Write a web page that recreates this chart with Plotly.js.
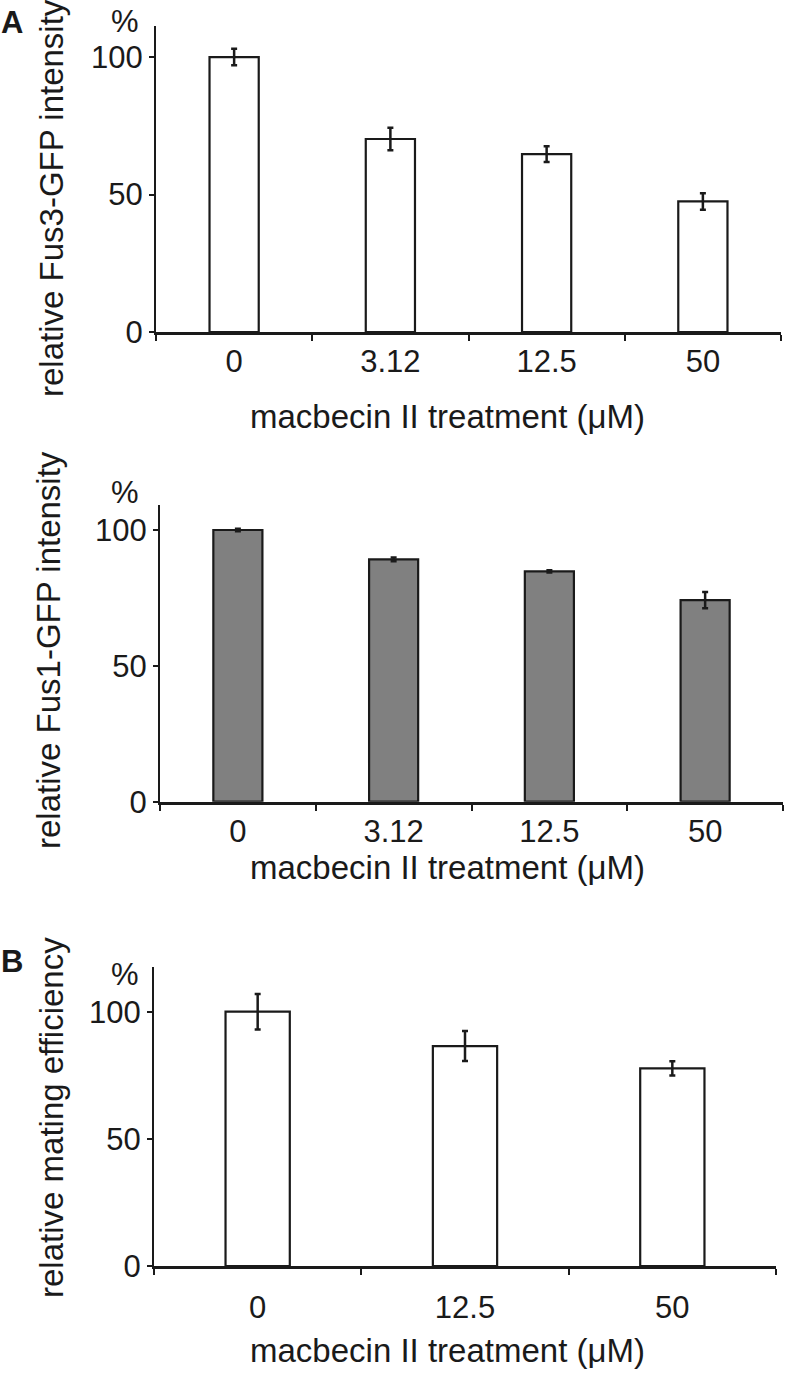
<!DOCTYPE html>
<html>
<head>
<meta charset="utf-8">
<script src="https://cdn.plot.ly/plotly-3.0.1.min.js"></script>
<style>html,body{margin:0;padding:0;background:#fff;}#chart{width:785px;height:1375px;}</style>
</head>
<body>
<div id="chart"></div>
<script>
// ---- data ----
const concA = ["0", "3.12", "12.5", "50"];
const fus3Values = [100, 70.2, 64.7, 47.5];
const fus3Errors = [3.0, 4.1, 2.9, 3.0];
const fus1Values = [100, 89.2, 84.8, 74.2];
const fus1Errors = [0.5, 0.7, 0.4, 3.0];
const concB = ["0", "12.5", "50"];
const matingValues = [100, 86.5, 77.7];
const matingErrors = [7.0, 5.9, 2.8];
const yTicks = [0, 50, 100];

const W = 785, H = 1375;
const px = v => v / W;
const py = v => 1 - v / H;
const ink = '#1a1a1a';
const FONT = 'Liberation Sans, Arial, Helvetica, sans-serif';

function bar(x, y, err, color, xa, ya, width) {
  return {
    type: 'bar', x: x, y: y, xaxis: xa, yaxis: ya, width: width,
    marker: {color: color, line: {color: ink, width: 2.2}},
    error_y: {type: 'data', array: err, visible: true, color: ink, thickness: 2.5, width: 3},
    hoverinfo: 'skip', showlegend: false
  };
}

const data = [
  bar(concA, fus3Values, fus3Errors, '#ffffff', 'x', 'y', 0.315),
  bar(concA, fus1Values, fus1Errors, '#808080', 'x2', 'y2', 0.315),
  bar(concB, matingValues, matingErrors, '#ffffff', 'x3', 'y3', 0.31)
];

function xax(d0, d1, anchor, standoff) {
  return {
    domain: [px(d0), px(d1)], anchor: anchor, type: 'category',
    tickson: 'boundaries', ticks: 'outside', ticklen: 6, tickwidth: 2, tickcolor: ink,
    showline: true, linewidth: 2.8, linecolor: ink, showgrid: false, zeroline: false,
    ticklabelstandoff: standoff,
    tickfont: {family: FONT, size: 31, color: ink}, fixedrange: true
  };
}
function yax(top, bottom, rmax, anchor) {
  return {
    domain: [py(bottom), py(top)], anchor: anchor, range: [0, rmax],
    tickvals: yTicks, ticktext: yTicks.map(String),
    ticks: 'outside', ticklen: 5, tickwidth: 2, tickcolor: ink,
    showline: true, linewidth: 2, linecolor: ink, showgrid: false, zeroline: false,
    tickfont: {family: FONT, size: 31, color: ink}, fixedrange: true
  };
}

function ann(text, x, y, size, opts) {
  return Object.assign({
    text: text, x: px(x), y: py(y), xref: 'paper', yref: 'paper',
    showarrow: false, xanchor: 'center', yanchor: 'middle',
    font: {family: FONT, size: size, color: ink}
  }, opts || {});
}

const layout = {
  width: W, height: H,
  margin: {l: 0, r: 0, t: 0, b: 0},
  paper_bgcolor: '#fff', plot_bgcolor: '#fff',
  xaxis: xax(156, 781, 'y', 0),
  yaxis: yax(26, 332, 111.3, 'x'),
  xaxis2: xax(160, 783, 'y2', 0),
  yaxis2: yax(505, 801.7, 109.2, 'x2'),
  xaxis3: xax(154, 776, 'y3', 12),
  yaxis3: yax(966.7, 1266, 117.7, 'x3'),
  annotations: [
    ann('<b>A</b>', 12, 22, 31),
    ann('<b>B</b>', 12, 961, 31),
    ann('%', 125, 21, 31),
    ann('%', 125, 493, 31),
    ann('%', 125, 974, 31),
    ann('relative Fus3-GFP intensity', 51, 198, 33, {textangle: -90}),
    ann('relative Fus1-GFP intensity', 49, 650, 33, {textangle: -90}),
    ann('relative mating efficiency', 51, 1118, 33, {textangle: -90}),
    ann('macbecin II treatment (\u03bcM)', 447, 417, 33),
    ann('macbecin II treatment (\u03bcM)', 447, 867, 33),
    ann('macbecin II treatment (\u03bcM)', 447, 1350, 33)
  ]
};

Plotly.newPlot('chart', data, layout, {displayModeBar: false, staticPlot: true});
</script>
</body>
</html>
